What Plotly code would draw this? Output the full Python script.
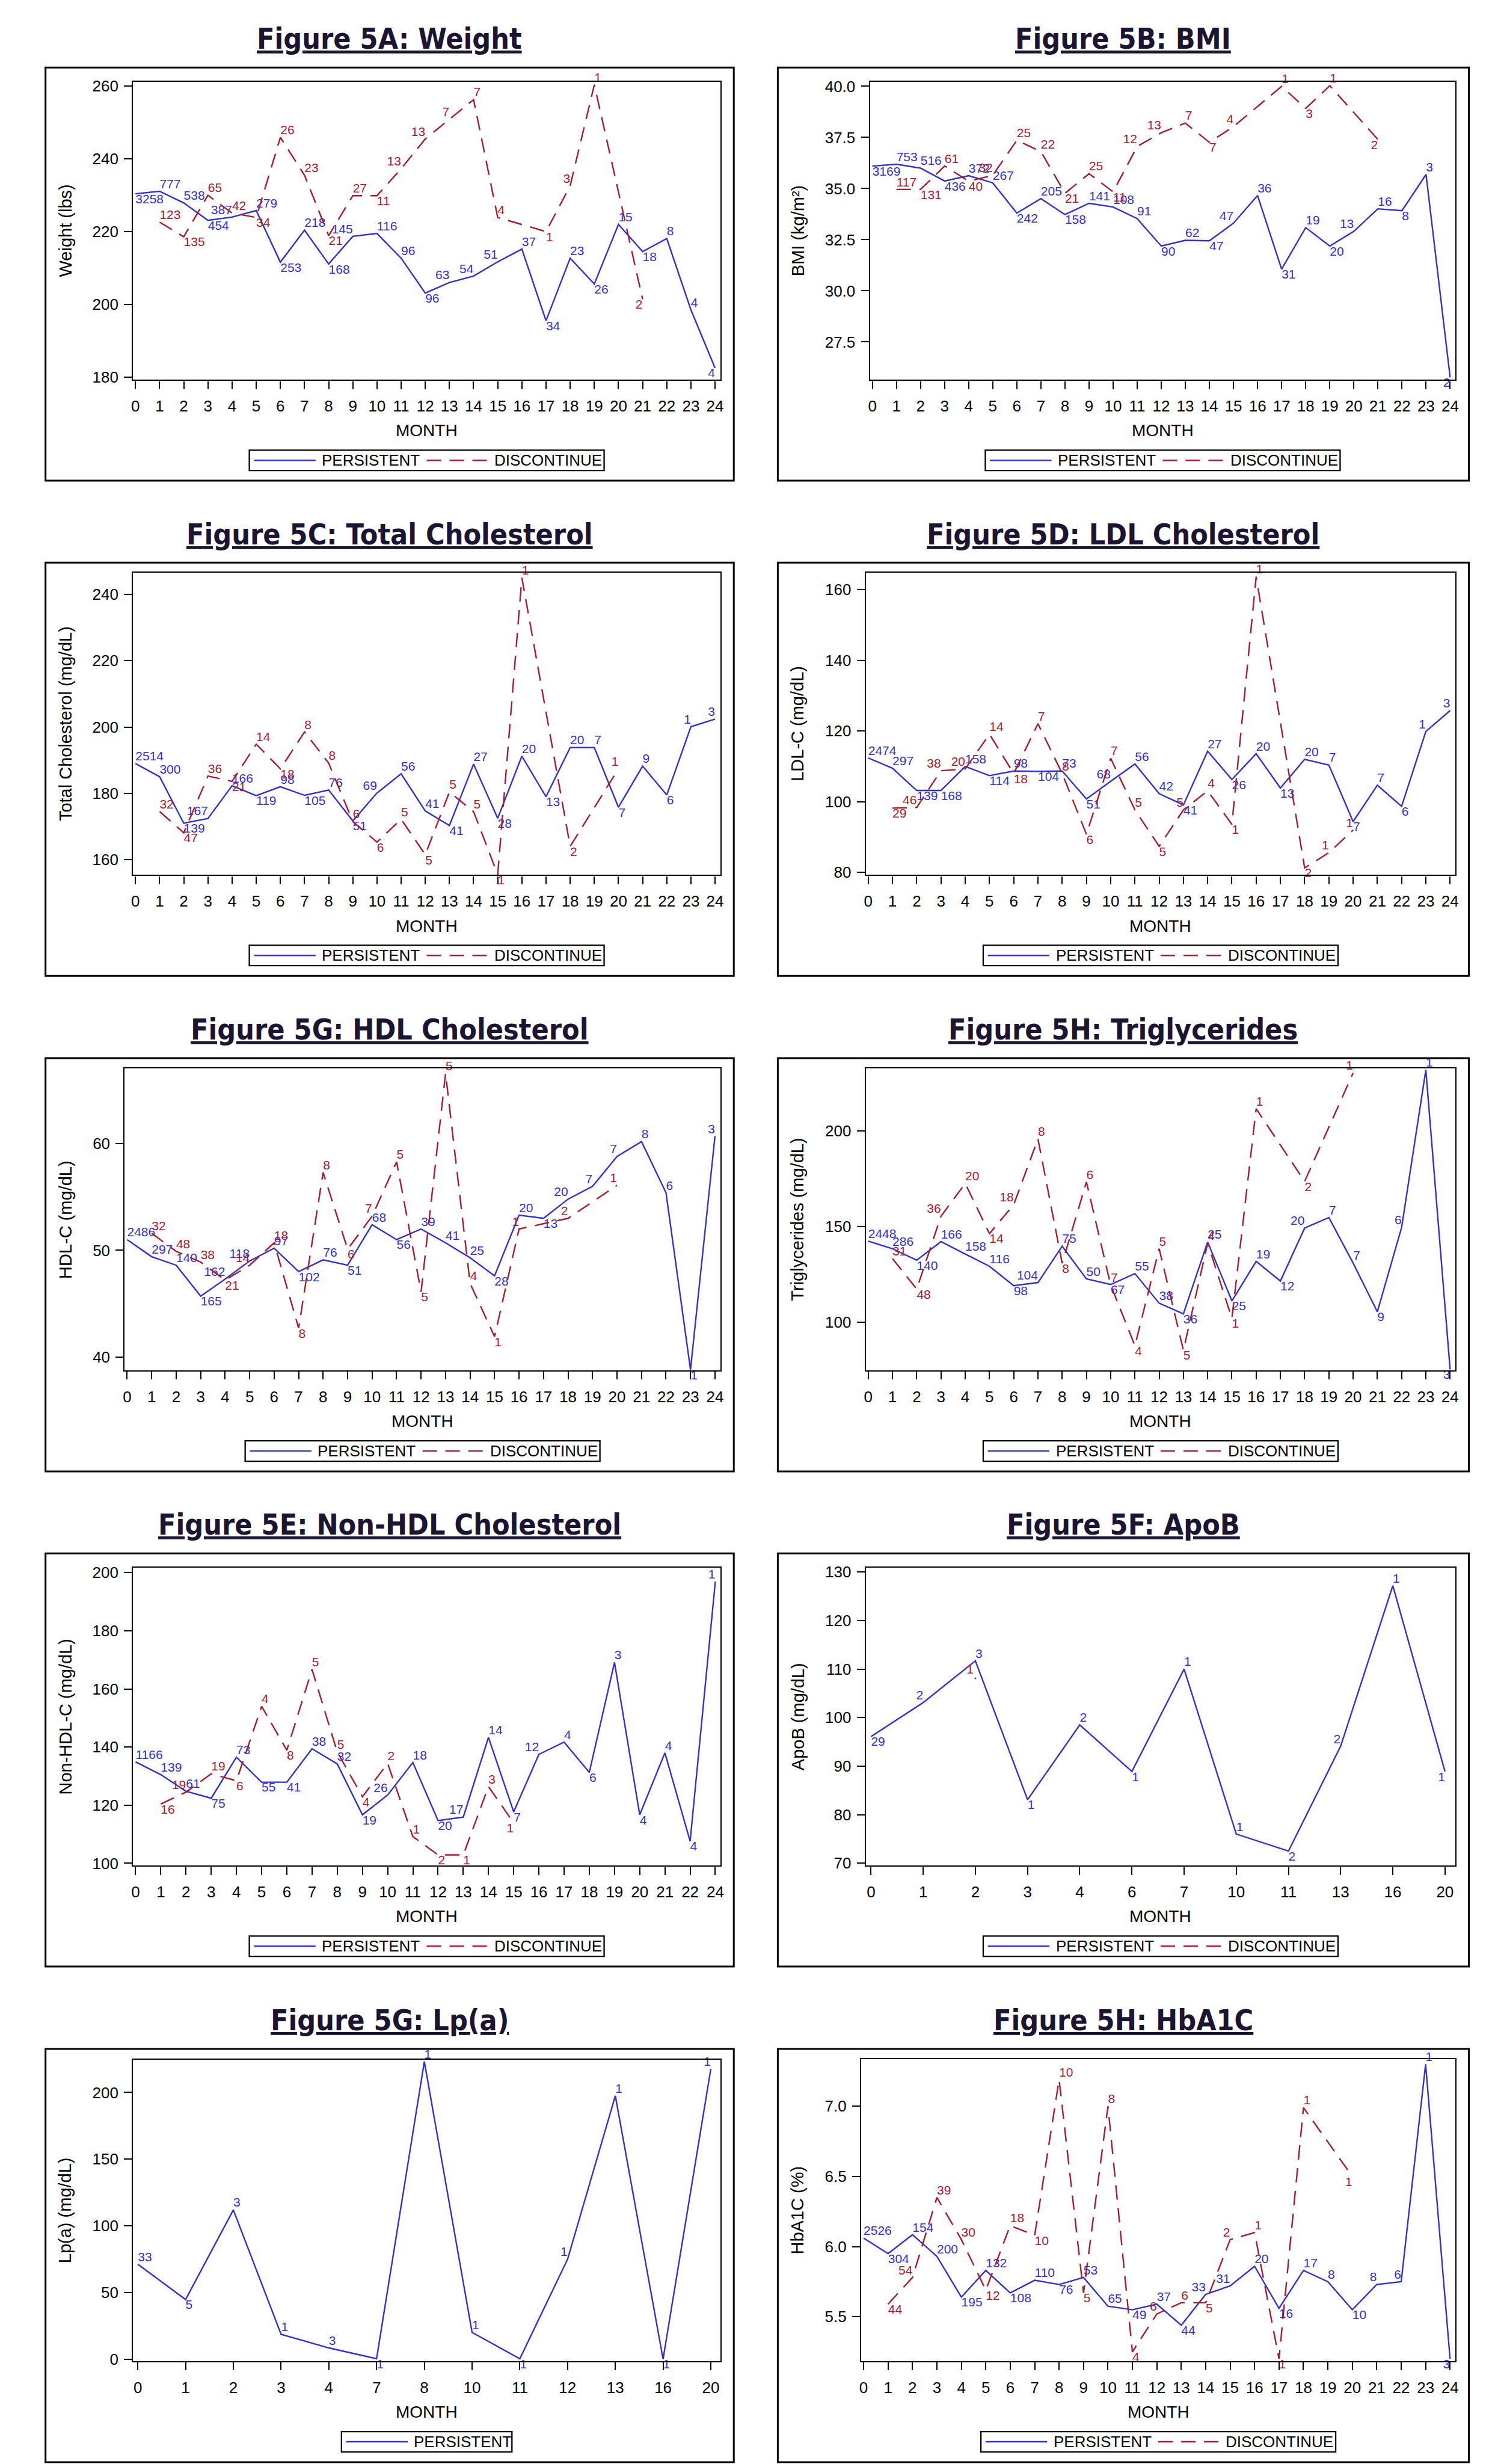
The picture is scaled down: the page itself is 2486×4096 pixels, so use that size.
import plotly.graph_objects as go

W, H = 2486, 4096
S = 0.773  # reference px -> window px

BLUE = "#3131CF"
RED = "#A81B2E"
TITLE_C = "#1B1533"
FONT = "Liberation Sans, Arial, sans-serif"
TFONT = "Liberation Sans Narrow, DejaVu Sans Condensed, Arial Narrow, sans-serif"

MONTHS = list(range(25))

# ---------------- Figure 5A: Weight ----------------
wt_p = [230.4, 231.1, 227.9, 223.1, 224.0, 225.8, 211.6, 220.4, 211.1, 218.7, 219.5, 212.7, 203.1,
        206.0, 207.8, 211.7, 215.2, 195.5, 212.7, 205.6, 222.0, 214.5, 218.1, 198.5, 182.5]
wt_p_n = [3258, 777, 538, 454, 387, 279, 253, 218, 168, 145, 116, 96, 96, 63, 54, 51, 37, 34, 23, 26,
          15, 18, 8, 4, 4]
wt_d_m = [1, 2, 3, 4, 5, 6, 7, 8, 9, 10, 11, 12, 13, 14, 15, 17, 18, 19, 21]
wt_d = [222.6, 218.6, 230.0, 225.1, 223.9, 245.9, 235.5, 218.9, 229.9, 229.9, 237.3, 245.5, 250.9,
        256.3, 223.9, 220.0, 232.6, 260.4, 201.4]
wt_d_n = [123, 135, 65, 42, 34, 26, 23, 21, 27, 11, 13, 13, 7, 7, 4, 1, 3, 1, 2]

# ---------------- Figure 5B: BMI ----------------
bmi_p = [36.1, 36.19, 36.0, 35.37, 35.63, 35.28, 33.8, 34.51, 33.73, 34.28, 34.1, 33.53, 32.19, 32.47,
         32.45, 33.31, 34.66, 31.06, 33.09, 32.19, 32.91, 34.01, 33.92, 35.69, 25.77]
bmi_p_n = [3169, 753, 516, 436, 372, 267, 242, 205, 158, 141, 108, 91, 90, 62, 47, 47, 36, 31, 19, 20,
           13, 16, 8, 3, 2]
bmi_d_m = [1, 2, 3, 4, 5, 6, 7, 8, 9, 10, 11, 12, 13, 14, 15, 17, 18, 19, 21]
bmi_d = [34.96, 34.96, 36.1, 35.36, 35.65, 37.36, 36.81, 34.77, 35.73, 34.84, 37.06, 37.73, 38.2,
         37.26, 38.03, 40.0, 38.92, 40.03, 37.4]
bmi_d_n = [117, 131, 61, 40, 32, 25, 22, 21, 25, 11, 12, 13, 7, 7, 4, 1, 3, 1, 2]

# ---------------- Figure 5C: Total Cholesterol ----------------
tc_p = [189.0, 185.0, 171.0, 172.4, 182.3, 179.3, 182.0, 179.4, 181.0, 171.7, 180.1, 185.9, 174.7,
        170.3, 188.8, 172.5, 191.2, 179.0, 193.8, 193.8, 175.8, 188.2, 179.5, 200.1, 202.4]
tc_p_n = [2514, 300, 139, 167, 166, 119, 98, 105, 76, 51, 69, 56, 41, 41, 27, 28, 20, 13, 20, 7, 7, 9,
          6, 1, 3]
tc_d_m = [1, 2, 3, 4, 5, 6, 7, 8, 9, 10, 11, 12, 13, 14, 15, 16, 18, 20]
tc_d = [174.5, 168.1, 185.2, 183.6, 194.8, 187.4, 198.5, 189.1, 171.5, 165.3, 172.2, 161.5, 180.4,
        174.5, 155.5, 245.0, 164.0, 187.4]
tc_d_n = [32, 47, 36, 21, 14, 18, 8, 8, 6, 6, 5, 5, 5, 5, 1, 1, 2, 1]

# ---------------- Figure 5D: LDL Cholesterol ----------------
ldl_p = [112.4, 109.5, 103.2, 103.2, 110.0, 107.4, 108.7, 108.6, 108.7, 100.8, 105.8, 110.7, 102.3,
         99.1, 114.3, 106.3, 113.6, 103.9, 112.0, 110.4, 94.4, 104.7, 98.7, 119.9, 125.8]
ldl_p_n = [2474, 297, 139, 168, 158, 114, 98, 104, 73, 51, 68, 56, 42, 41, 27, 26, 20, 13, 20, 7, 7, 7,
           6, 1, 3]
ldl_d_m = [1, 2, 3, 4, 5, 6, 7, 8, 9, 10, 11, 12, 13, 14, 15, 16, 18, 19, 20]
ldl_d = [98.2, 98.4, 108.8, 109.3, 119.1, 108.0, 122.1, 108.0, 90.8, 112.3, 97.7, 87.4, 97.7, 103.1,
         93.6, 163.7, 81.3, 85.6, 92.0]
ldl_d_n = [29, 46, 38, 20, 14, 18, 7, 8, 6, 7, 5, 5, 5, 4, 1, 1, 2, 1, 1]

# ---------------- Figure 5G: HDL Cholesterol ----------------
hdl_p = [51.0, 49.4, 48.6, 45.7, 47.3, 49.0, 50.2, 48.0, 49.1, 48.6, 52.4, 51.0, 52.0, 50.7, 49.3,
         47.6, 53.3, 53.0, 54.8, 56.0, 58.8, 60.2, 55.4, 38.8, 60.7]
hdl_p_n = [2486, 297, 140, 165, 162, 118, 97, 102, 76, 51, 68, 56, 39, 41, 25, 28, 20, 13, 20, 7, 7, 8,
           6, 1, 3]
hdl_d_m = [1, 2, 3, 4, 5, 6, 7, 8, 9, 10, 11, 12, 13, 14, 15, 16, 18, 20]
hdl_d = [51.6, 49.9, 48.9, 47.2, 48.6, 50.7, 42.7, 57.3, 50.1, 53.2, 58.3, 46.1, 66.6, 46.9, 41.9,
         52.0, 53.0, 56.1]
hdl_d_n = [32, 48, 38, 21, 14, 18, 8, 8, 6, 7, 5, 5, 5, 4, 1, 1, 2, 1]

# ---------------- Figure 5H: Triglycerides ----------------
tg_p = [142.5, 138.5, 132.5, 142.2, 135.7, 129.3, 119.2, 120.8, 139.8, 122.7, 119.8, 125.5, 110.0,
        104.4, 142.0, 111.2, 131.9, 121.6, 149.3, 154.8, 131.0, 105.5, 149.6, 232.0, 75.4]
tg_p_n = [2448, 286, 140, 166, 158, 116, 98, 104, 75, 50, 67, 55, 38, 36, 25, 25, 19, 12, 20, 7, 7, 9,
          6, 1, 3]
tg_d_m = [1, 2, 3, 4, 5, 6, 7, 8, 9, 10, 11, 12, 13, 14, 15, 16, 18, 20]
tg_d = [133.3, 117.4, 155.5, 172.6, 146.4, 161.5, 195.9, 130.9, 173.4, 119.5, 87.8, 138.5, 85.4,
        141.4, 102.1, 211.7, 173.7, 230.4]
tg_d_n = [31, 48, 36, 20, 14, 18, 8, 8, 6, 7, 4, 5, 5, 4, 1, 1, 2, 1]

# ---------------- Figure 5E: Non-HDL Cholesterol ----------------
nh_months = [0, 1, 2, 3, 4, 5, 6, 7, 8, 9, 10, 11, 12, 13, 14, 15, 16, 17, 18, 19, 20, 21, 22, 24]
nh_p = [134.9, 130.5, 124.8, 122.4, 136.5, 127.9, 127.9, 139.4, 134.2, 116.7, 123.5, 134.7, 114.7,
        115.9, 143.3, 117.7, 137.5, 141.7, 131.3, 169.1, 116.7, 138.0, 107.6, 196.9]
nh_p_n = [1166, 139, 61, 75, 73, 55, 41, 38, 32, 19, 26, 18, 20, 17, 14, 7, 12, 4, 6, 3, 4, 4, 4, 1]
nh_d_m = [1, 2, 3, 4, 5, 6, 7, 8, 9, 10, 11, 12, 13, 14, 15]
nh_d = [120.4, 124.5, 130.8, 128.4, 154.0, 138.9, 166.7, 138.3, 122.9, 134.4, 109.2, 102.9, 102.9,
        126.4, 113.9]
nh_d_n = [16, 19, 19, 6, 4, 8, 5, 5, 4, 2, 1, 2, 1, 3, 1]

# ---------------- Figure 5F: ApoB ----------------
apob_months = [0, 1, 2, 3, 4, 6, 7, 10, 11, 13, 16, 20]
apob_p = [96.1, 103.1, 111.7, 83.1, 98.5, 88.9, 110.0, 76.0, 72.5, 94.1, 127.2, 88.9]
apob_p_n = [29, 2, 3, 1, 2, 1, 1, 1, 2, 2, 1, 1]
apob_d_m = [2]
apob_d = [108.1]
apob_d_n = [1]

# ---------------- Figure 5G: Lp(a) ----------------
lpa_months = [0, 1, 2, 3, 4, 7, 8, 10, 11, 12, 13, 16, 20]
lpa_p = [71.1, 44.7, 111.9, 18.6, 8.4, 0.3, 223.2, 20.0, 0.3, 74.9, 197.5, 0.0, 217.7]
lpa_p_n = [33, 5, 3, 1, 3, 1, 1, 1, 1, 1, 1, 1, 1]

# ---------------- Figure 5H: HbA1C ----------------
a1c_p = [6.06, 5.95, 6.085, 5.93, 5.64, 5.83, 5.67, 5.76, 5.73, 5.78, 5.575, 5.55, 5.59, 5.44, 5.66,
         5.72, 5.86, 5.56, 5.83, 5.75, 5.55, 5.73, 5.75, 7.30, 5.2]
a1c_p_n = [2526, 304, 154, 200, 195, 132, 108, 110, 76, 53, 65, 49, 37, 44, 33, 31, 20, 16, 17, 8, 10, 8,
           6, 1, 3]
a1c_d_m = [1, 2, 3, 4, 5, 6, 7, 8, 9, 10, 11, 12, 13, 14, 15, 16, 17, 18, 20]
a1c_d = [5.59, 5.78, 6.35, 6.05, 5.69, 6.15, 6.08, 7.19, 5.67, 7.0, 5.25, 5.52, 5.60, 5.60, 6.05, 6.10,
         5.2, 6.99, 6.50]
a1c_d_n = [44, 54, 39, 30, 12, 18, 10, 10, 5, 8, 4, 6, 6, 5, 2, 1, 1, 1, 1]

panels = [
    dict(title="Figure 5A: Weight", ytitle="Weight (lbs)", col=0, row=0, left=189, top=31,
         yr=[179.25, 261.2], yt=[180, 200, 220, 240, 260], fmt="", cats=None,
         px=MONTHS, py=wt_p, pn=wt_p_n, dx=wt_d_m, dy=wt_d, dn=wt_d_n),
    dict(title="Figure 5B: BMI", ytitle="BMI (kg/m²)", col=1, row=0, left=199, top=31,
         yr=[25.65, 40.22], yt=[27.5, 30.0, 32.5, 35.0, 37.5, 40.0], fmt=".1f", cats=None,
         px=MONTHS, py=bmi_p, pn=bmi_p_n, dx=bmi_d_m, dy=bmi_d, dn=bmi_d_n),
    dict(title="Figure 5C: Total Cholesterol", ytitle="Total Cholesterol (mg/dL)", col=0, row=1,
         left=189, top=22, yr=[155.4, 246.5], yt=[160, 180, 200, 220, 240], fmt="", cats=None,
         px=MONTHS, py=tc_p, pn=tc_p_n, dx=tc_d_m, dy=tc_d, dn=tc_d_n),
    dict(title="Figure 5D: LDL Cholesterol", ytitle="LDL-C (mg/dL)", col=1, row=1, left=190, top=22,
         yr=[79.3, 164.8], yt=[80, 100, 120, 140, 160], fmt="", cats=None,
         px=MONTHS, py=ldl_p, pn=ldl_p_n, dx=ldl_d_m, dy=ldl_d, dn=ldl_d_n),
    dict(title="Figure 5G: HDL Cholesterol", ytitle="HDL-C (mg/dL)", col=0, row=2, left=171, top=22,
         yr=[38.72, 67.07], yt=[40, 50, 60], fmt="", cats=None,
         px=MONTHS, py=hdl_p, pn=hdl_p_n, dx=hdl_d_m, dy=hdl_d, dn=hdl_d_n),
    dict(title="Figure 5H: Triglycerides", ytitle="Triglycerides (mg/dL)", col=1, row=2, left=190,
         top=22, yr=[74.8, 232.8], yt=[100, 150, 200], fmt="", cats=None,
         px=MONTHS, py=tg_p, pn=tg_p_n, dx=tg_d_m, dy=tg_d, dn=tg_d_n),
    dict(title="Figure 5E: Non-HDL Cholesterol", ytitle="Non-HDL-C (mg/dL)", col=0, row=3, left=189,
         top=31, yr=[99.2, 201.7], yt=[100, 120, 140, 160, 180, 200], fmt="", cats=nh_months,
         px=nh_months, py=nh_p, pn=nh_p_n, dx=nh_d_m, dy=nh_d, dn=nh_d_n),
    dict(title="Figure 5F: ApoB", ytitle="ApoB (mg/dL)", col=1, row=3, left=190, top=31,
         yr=[69.5, 130.9], yt=[70, 80, 90, 100, 110, 120, 130], fmt="", cats=apob_months,
         px=apob_months, py=apob_p, pn=apob_p_n, dx=apob_d_m, dy=apob_d, dn=apob_d_n),
    dict(title="Figure 5G: Lp(a)", ytitle="Lp(a) (mg/dL)", col=0, row=4, left=189, top=23,
         yr=[-1.6, 224.7], yt=[0, 50, 100, 150, 200], fmt="", cats=lpa_months,
         px=lpa_months, py=lpa_p, pn=lpa_p_n, dx=None, dy=None, dn=None),
    dict(title="Figure 5H: HbA1C", ytitle="HbA1C (%)", col=1, row=4, left=180, top=22,
         yr=[5.183, 7.336], yt=[5.5, 6.0, 6.5, 7.0], fmt=".1f", cats=None,
         px=MONTHS, py=a1c_p, pn=a1c_p_n, dx=a1c_d_m, dy=a1c_d, dn=a1c_d_n),
]

BOX_X = [(84, 1570), (1665, 3157)]
BOX_TOP = [125, 1195, 2266, 3336, 4407]
BOX_H = 893


def fx(v):  # reference px -> paper x
    return v * S / W


def fy(v):  # reference px -> paper y
    return 1 - v * S / H


def label_pos(ys):
    n = len(ys)
    out = []
    for i in range(n):
        prev = ys[i - 1] if i > 0 else None
        nxt = ys[i + 1] if i < n - 1 else None
        c = ys[i]
        if prev is None and nxt is None:
            out.append("top right")
        elif prev is None:
            out.append("bottom right" if nxt > c else "top right")
        elif nxt is None:
            out.append("top left" if prev < c else "bottom left")
        elif c >= prev and c >= nxt:
            out.append("top right")
        elif c <= prev and c <= nxt:
            out.append("bottom right")
        elif c > prev:
            out.append("top left")
        else:
            out.append("top right")
    return out


fig = go.Figure()
shapes = []
annos = []
layout_axes = {}

for i, p in enumerate(panels):
    k = i + 1
    xa = "x" if k == 1 else f"x{k}"
    ya = "y" if k == 1 else f"y{k}"
    bx0, bx1 = BOX_X[p["col"]]
    bt = BOX_TOP[p["row"]]
    fl, fr = bx0 + p["left"], bx1 - 29
    ft, fb = bt + p["top"], bt + 675

    cat = p["cats"] is not None
    if cat:
        xs_p = [str(m) for m in p["px"]]
        xs_d = [str(m) for m in p["dx"]] if p["dx"] is not None else None
        ncat = len(p["cats"])
        xr = [-0.1, ncat - 1 + 0.2]
    else:
        xs_p = p["px"]
        xs_d = p["dx"]
        xr = [-0.1, 24.22]

    fig.add_trace(go.Scatter(
        x=xs_p, y=p["py"], text=[str(v) for v in p["pn"]], mode="lines+text",
        line=dict(color=BLUE, width=2.4), textposition=label_pos(p["py"]),
        textfont=dict(family=FONT, size=21, color=BLUE), cliponaxis=False,
        showlegend=False, xaxis=xa, yaxis=ya, hoverinfo="skip"))
    if p["dy"] is not None:
        single = len(p["dy"]) == 1
        fig.add_trace(go.Scatter(
            x=xs_d, y=p["dy"], text=[str(v) for v in p["dn"]],
            mode="markers+text" if single else "lines+text",
            marker=dict(color=RED, size=3),
            line=dict(color=RED, width=2.4, dash="24px,14px"),
            textposition="top left" if single else label_pos(p["dy"]),
            textfont=dict(family=FONT, size=21, color=RED), cliponaxis=False,
            showlegend=False, xaxis=xa, yaxis=ya, hoverinfo="skip"))

    axis_common = dict(showline=True, mirror=True, linecolor="black", linewidth=2.3,
                       ticks="outside", ticklen=13, tickwidth=1.6, tickcolor="black",
                       showgrid=False, zeroline=False,
                       tickfont=dict(family=FONT, size=26, color="black"))
    xaxis = dict(axis_common, domain=[fx(fl), fx(fr)], anchor=ya, range=xr,
                 ticklabelstandoff=6)
    if cat:
        xaxis.update(type="category", categoryarray=[str(m) for m in p["cats"]],
                     categoryorder="array")
    else:
        xaxis.update(tickmode="array", tickvals=MONTHS)
    yaxis = dict(axis_common, domain=[fy(fb), fy(ft)], anchor=xa, range=p["yr"],
                 tickmode="array", tickvals=p["yt"], tickformat=p["fmt"], ticklabelstandoff=4)
    layout_axes["xaxis" if k == 1 else f"xaxis{k}"] = xaxis
    layout_axes["yaxis" if k == 1 else f"yaxis{k}"] = yaxis

    # outer panel box
    shapes.append(dict(type="rect", xref="paper", yref="paper", x0=fx(bx0), x1=fx(bx1),
                       y0=fy(bt + BOX_H), y1=fy(bt), line=dict(color="black", width=3)))
    # panel title
    annos.append(dict(text=p["title"], xref="paper", yref="paper", x=fx((bx0 + bx1) / 2),
                      y=fy(bt - 62), xanchor="center", yanchor="middle", showarrow=False,
                      font=dict(family=TFONT, size=48, color=TITLE_C, weight="bold",
                                lineposition="under")))
    # y axis title
    annos.append(dict(text=p["ytitle"], xref="paper", yref="paper", x=fx(bx0 + 43),
                      y=fy((ft + fb) / 2), xanchor="center", yanchor="middle", textangle=-90,
                      showarrow=False, font=dict(family=FONT, size=29, color="black")))
    # x axis title
    annos.append(dict(text="MONTH", xref="paper", yref="paper", x=fx((fl + fr) / 2),
                      y=fy(fb + 110), xanchor="center", yanchor="middle", showarrow=False,
                      font=dict(family=FONT, size=28, color="black")))

    # legend (drawn as a key box under the axes)
    two = p["dy"] is not None
    lw = 766 if two else 368
    lx0 = (fl + fr) / 2 - lw / 2
    ly0, ly1 = bt + 827, bt + 871
    lyc = (ly0 + ly1) / 2
    shapes.append(dict(type="rect", xref="paper", yref="paper", x0=fx(lx0), x1=fx(lx0 + lw),
                       y0=fy(ly1), y1=fy(ly0), line=dict(color="black", width=2.3)))
    shapes.append(dict(type="line", xref="paper", yref="paper", x0=fx(lx0 + 10),
                       x1=fx(lx0 + 143), y0=fy(lyc), y1=fy(lyc),
                       line=dict(color=BLUE, width=2.4)))
    annos.append(dict(text="PERSISTENT", xref="paper", yref="paper", x=fx(lx0 + 154),
                      y=fy(lyc), xanchor="left", yanchor="middle", showarrow=False,
                      font=dict(family=FONT, size=26, color="black")))
    if two:
        shapes.append(dict(type="line", xref="paper", yref="paper", x0=fx(lx0 + 383),
                           x1=fx(lx0 + 513), y0=fy(lyc), y1=fy(lyc),
                           line=dict(color=RED, width=2.4, dash="24px,14px")))
        annos.append(dict(text="DISCONTINUE", xref="paper", yref="paper", x=fx(lx0 + 526),
                          y=fy(lyc), xanchor="left", yanchor="middle", showarrow=False,
                          font=dict(family=FONT, size=26, color="black")))

fig.update_layout(width=W, height=H, margin=dict(l=0, r=0, t=0, b=0),
                  paper_bgcolor="white", plot_bgcolor="white", showlegend=False,
                  shapes=shapes, annotations=annos, **layout_axes)

fig.write_html("out.html")
